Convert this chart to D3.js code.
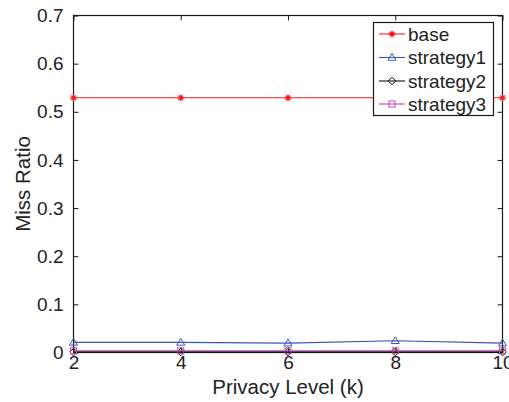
<!DOCTYPE html>
<html><head><meta charset="utf-8">
<script src="https://cdn.jsdelivr.net/npm/d3@7"></script>
<style>body{margin:0;background:#fff}svg{display:block}text{font-family:"Liberation Sans",Arial,Helvetica,sans-serif;fill:#222}</style>
</head><body>
<svg id="c" width="509" height="402"></svg>
<script>
const privacyLevels = [2, 4, 6, 8, 10];
const base = [0.529, 0.529, 0.529, 0.529, 0.529];
const strategy1 = [0.021, 0.021, 0.0195, 0.0245, 0.0195];
const strategy2 = [0.001, 0.001, 0.001, 0.001, 0.001];
const strategy3 = [0.0035, 0.0035, 0.0035, 0.0035, 0.0035];
const seriesNames = ["base", "strategy1", "strategy2", "strategy3"];
const yTicks = [0, 0.1, 0.2, 0.3, 0.4, 0.5, 0.6, 0.7];
const xTicks = [2, 4, 6, 8, 10];

const series = [
  {name: seriesNames[0], values: base, color: "#ff1a1a", marker: "star"},
  {name: seriesNames[1], values: strategy1, color: "#3a55b5", marker: "tri"},
  {name: seriesNames[2], values: strategy2, color: "#111111", marker: "diamond"},
  {name: seriesNames[3], values: strategy3, color: "#c04aa8", marker: "square"}
];

const svg = d3.select("#c");
const L = 73.5, R = 502.5, T = 15.5, B = 352.5;
const x = d3.scaleLinear().domain([2, 10]).range([L, R]);
const y = d3.scaleLinear().domain([0, 0.7]).range([B, T]);

// frame
svg.append("rect").attr("x", L).attr("y", T).attr("width", R - L).attr("height", B - T)
  .attr("fill", "none").attr("stroke", "#1a1a1a").attr("stroke-width", 1.2);

// axes with inward ticks
const tickLen = 5;
const gx = svg.append("g").attr("transform", `translate(0,${B})`)
  .call(d3.axisBottom(x).tickValues(xTicks).tickSize(-tickLen).tickPadding(3).tickFormat(d3.format("d")));
const gxTop = svg.append("g").attr("transform", `translate(0,${T})`)
  .call(d3.axisTop(x).tickValues(xTicks).tickSize(-tickLen).tickFormat(""));
const gy = svg.append("g").attr("transform", `translate(${L},0)`)
  .call(d3.axisLeft(y).tickValues(yTicks).tickSize(-tickLen).tickPadding(10).tickFormat(d => d === 0 ? "0" : d3.format(".1f")(d)));
const gyR = svg.append("g").attr("transform", `translate(${R},0)`)
  .call(d3.axisRight(y).tickValues(yTicks).tickSize(-tickLen).tickFormat(""));
[gx, gxTop, gy, gyR].forEach(g => {
  g.select(".domain").remove();
  g.selectAll(".tick line").attr("stroke", "#1a1a1a").attr("stroke-width", 1);
  g.selectAll("text").style("font-size", "19px").attr("fill", "#222");
});
gx.selectAll("text").attr("dy", "0.71em");

// labels
svg.append("text").attr("x", (L + R) / 2).attr("y", 394).attr("text-anchor", "middle")
  .style("font-size", "20.5px").text("Privacy Level (k)");
svg.append("text").attr("transform", `translate(30,${(T + B) / 2}) rotate(-90)`).attr("text-anchor", "middle")
  .style("font-size", "20.5px").text("Miss Ratio");

function drawMarker(g, type, cx, cy, color) {
  if (type === "star") {
    const s = 3.2;
    g.append("path").attr("d", `M${cx - s},${cy}L${cx + s},${cy}M${cx},${cy - s}L${cx},${cy + s}M${cx - s * 0.7},${cy - s * 0.7}L${cx + s * 0.7},${cy + s * 0.7}M${cx - s * 0.7},${cy + s * 0.7}L${cx + s * 0.7},${cy - s * 0.7}`)
      .attr("stroke", color).attr("stroke-width", 1.3).attr("fill", "none");
  } else if (type === "tri") {
    const s = 4;
    g.append("path").attr("d", `M${cx},${cy - s}L${cx + s},${cy + s * 0.7}L${cx - s},${cy + s * 0.7}Z`)
      .attr("stroke", color).attr("fill", "none").attr("stroke-width", 1);
  } else if (type === "diamond") {
    const s = 3.8;
    g.append("path").attr("d", `M${cx},${cy - s}L${cx + s},${cy}L${cx},${cy + s}L${cx - s},${cy}Z`)
      .attr("stroke", color).attr("fill", "none").attr("stroke-width", 1);
  } else {
    const s = 3;
    g.append("rect").attr("x", cx - s).attr("y", cy - s).attr("width", 2 * s).attr("height", 2 * s)
      .attr("stroke", color).attr("fill", "none").attr("stroke-width", 1);
  }
}

const line = d3.line().x((d, i) => x(privacyLevels[i])).y(d => y(d));
const plot = svg.append("g");
series.forEach(s => {
  plot.append("path").datum(s.values).attr("d", line).attr("fill", "none")
    .attr("stroke", s.color).attr("stroke-width", s.marker === "diamond" ? 1.6 : 1.1);
  s.values.forEach((v, i) => drawMarker(plot, s.marker, x(privacyLevels[i]), y(v), s.color));
});

// legend
const lg = svg.append("g");
lg.append("rect").attr("x", 373.5).attr("y", 22.5).attr("width", 120).attr("height", 93)
  .attr("fill", "#fff").attr("stroke", "#1a1a1a").attr("stroke-width", 1.2);
const rowY = [34, 57.5, 81, 104];
series.forEach((s, i) => {
  lg.append("line").attr("x1", 379).attr("x2", 405).attr("y1", rowY[i]).attr("y2", rowY[i])
    .attr("stroke", s.color).attr("stroke-width", 1.1);
  drawMarker(lg, s.marker, 392, rowY[i], s.color);
  lg.append("text").attr("x", 408).attr("y", rowY[i]).attr("dy", "0.35em")
    .style("font-size", "19px").text(s.name);
});
</script>
</body></html>
